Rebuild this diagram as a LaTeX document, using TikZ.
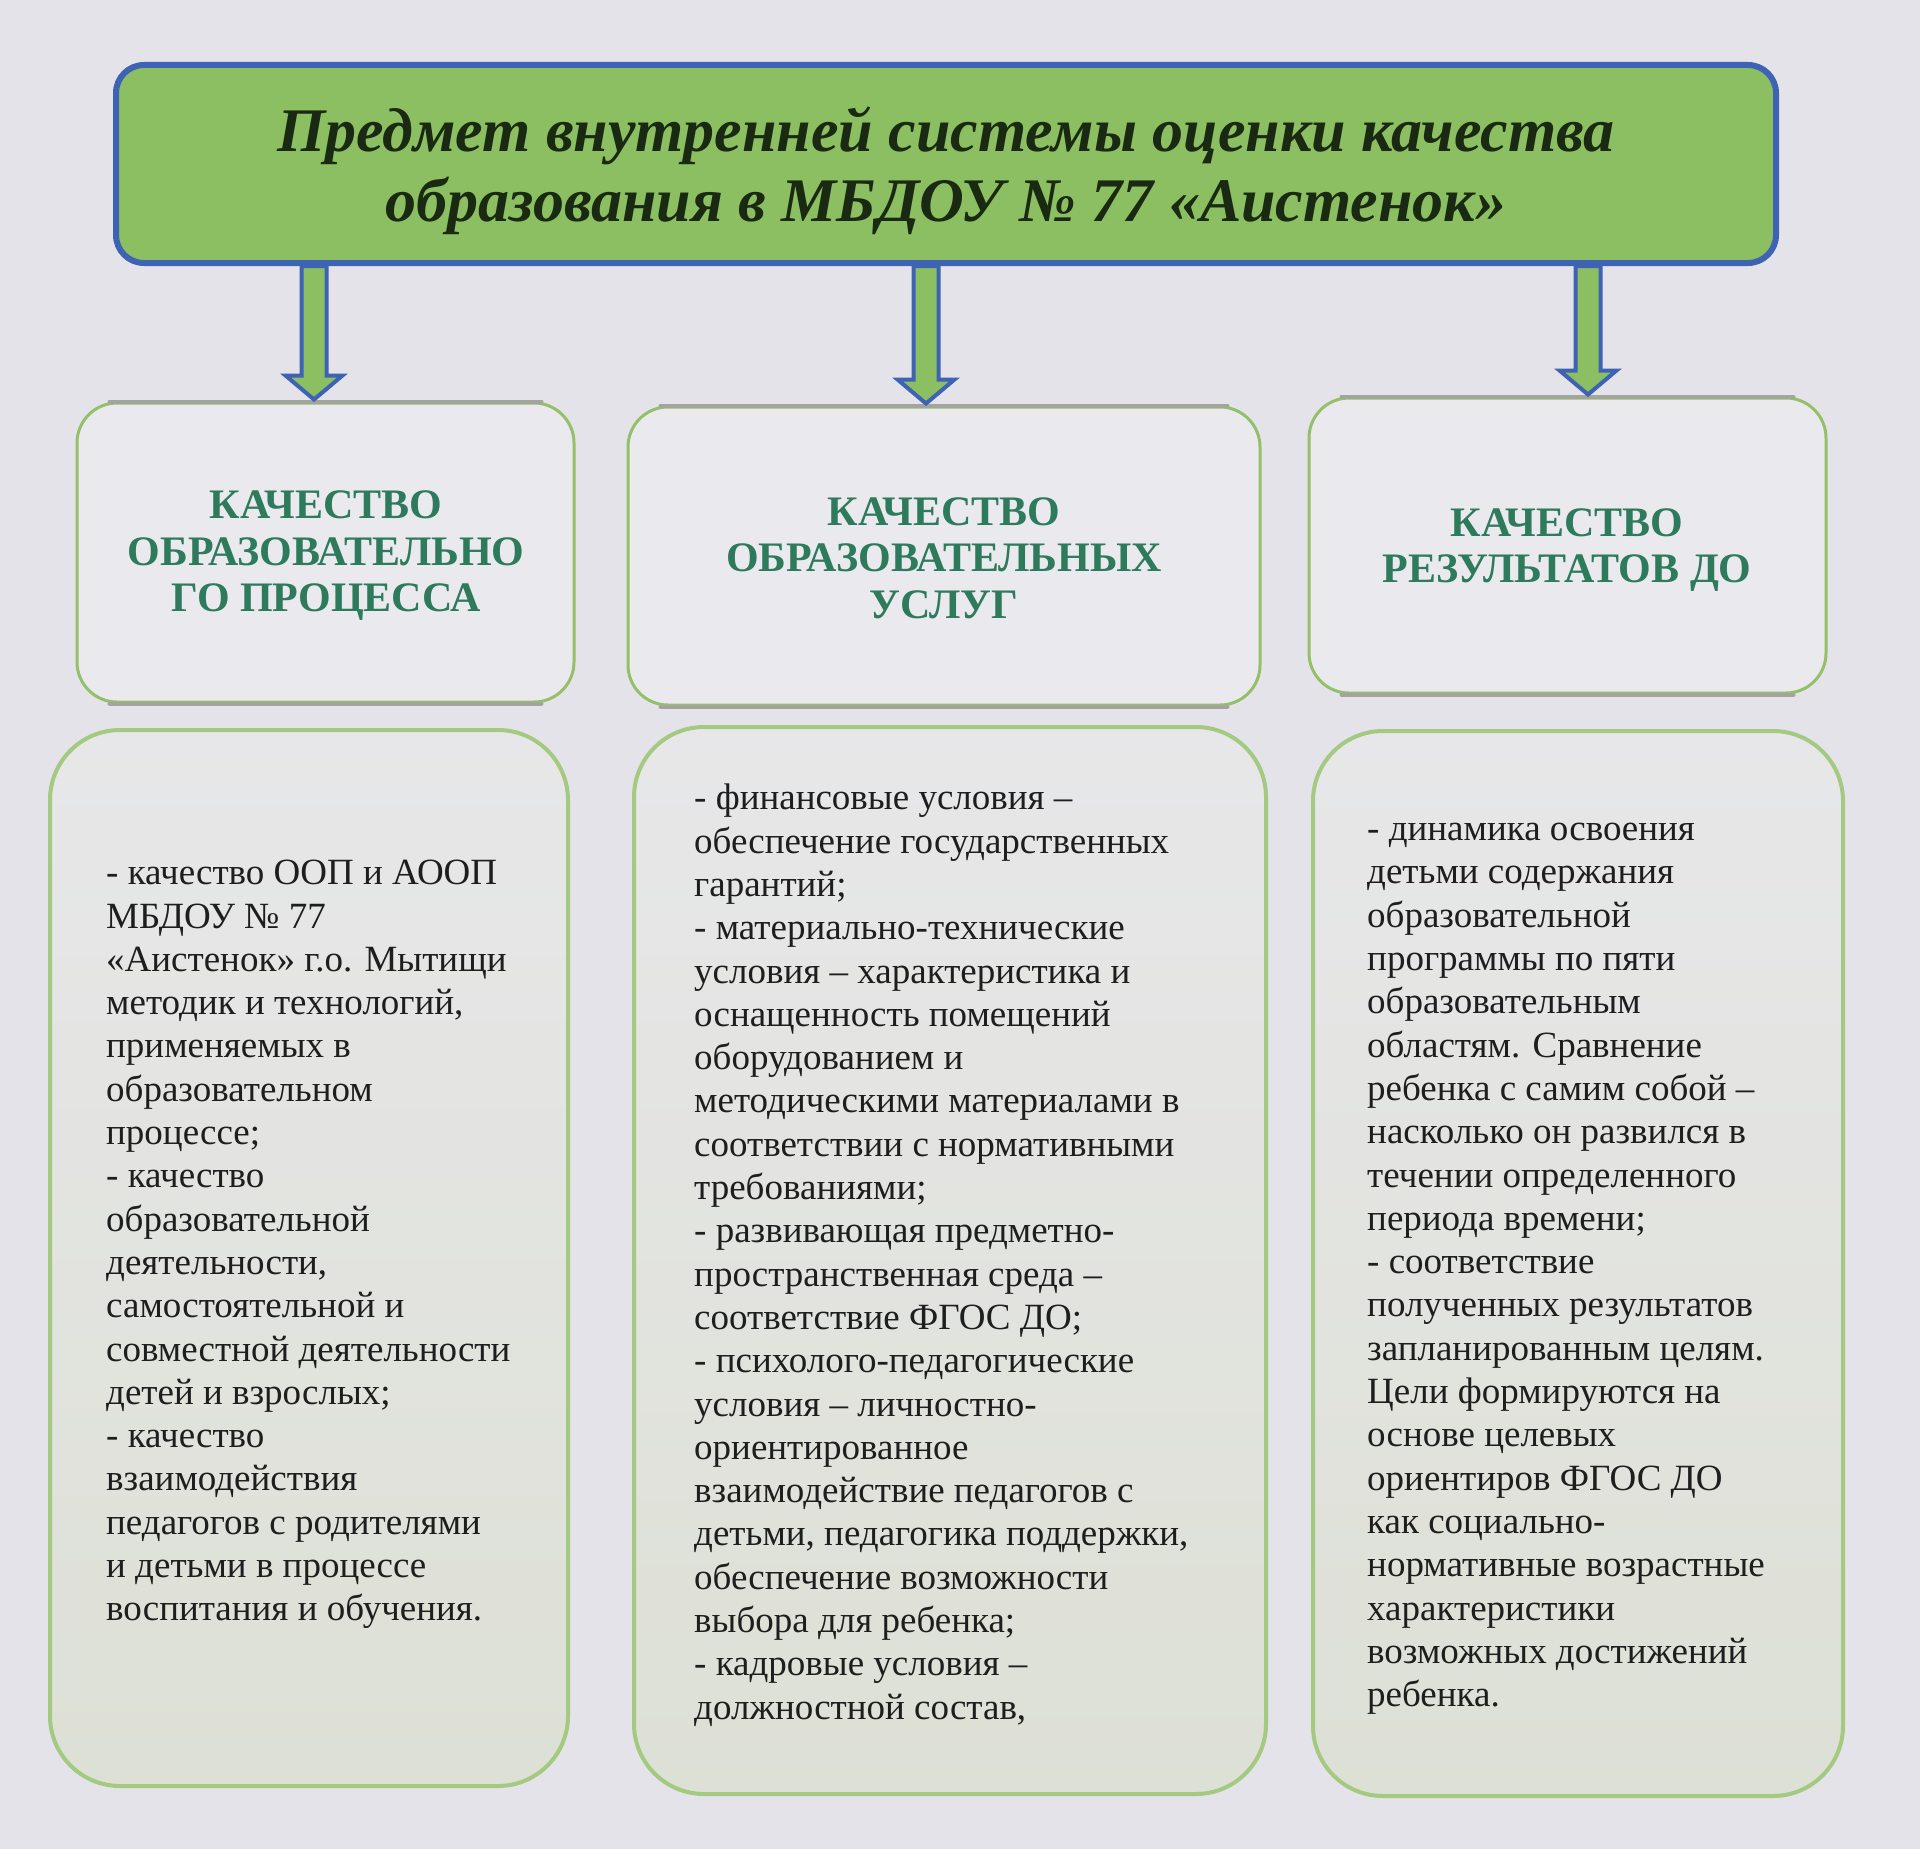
\documentclass[tikz,border=0pt]{standalone}
\usepackage{fontspec}
\setmainfont{Liberation Serif}
\usetikzlibrary{calc}
\definecolor{bgc}{HTML}{E5E3EA}
\definecolor{hdrfill}{HTML}{8CBF62}
\definecolor{hdrline}{HTML}{3E62B4}
\definecolor{boxline}{HTML}{94C06A}
\definecolor{shadowgrey}{HTML}{A3A59C}
\definecolor{catcol}{HTML}{2D7A5C}
\definecolor{titlecol}{HTML}{1A2A12}
\definecolor{bodycol}{HTML}{1E1E1E}
\definecolor{topfill}{HTML}{EAE9EE}
\definecolor{botfillA}{HTML}{E7E7E9}
\definecolor{botfillB}{HTML}{DDE0D5}
\newcommand{\vsdownarrow}[3]{%
  \draw[fatarrow] let \p1=(#1,0 |- #2.south), \p2=(#1,0 |- #3.north) in
  (\x1-12.5pt,\y1) -- (\x1-12.5pt,\y2+26pt) -- (\x1-28.5pt,\y2+26pt) --
  (\x1,\y2+2pt) -- (\x1+28.5pt,\y2+26pt) -- (\x1+12.5pt,\y2+26pt) --
  (\x1+12.5pt,\y1) -- cycle;}
\begin{document}
\begin{tikzpicture}[x=1pt,y=-1pt,
  hdr/.style={draw=hdrline, line width=6pt, fill=hdrfill, rounded corners=28pt, inner sep=0pt,
    text=titlecol, font=\fontsize{62}{70}\selectfont\bfseries\itshape, align=center},
  catbox/.style={draw=boxline, line width=3pt, fill=topfill, rounded corners=40pt, inner sep=0pt,
    text=catcol, font=\fontsize{42}{46.5}\selectfont\bfseries, align=center},
  bodybox/.style={draw=boxline!85!white, line width=4pt, top color=botfillA, bottom color=botfillB,
    rounded corners=70pt, inner sep=0pt},
  bodytext/.style={text=bodycol, font=\fontsize{37}{43.3}\selectfont, align=left,
    anchor=north west, inner sep=0pt},
  greyedge/.style={draw=shadowgrey, line width=4pt, line cap=round},
  fatarrow/.style={draw=hdrline, line width=4pt, fill=hdrfill, line join=miter}
]
\path[fill=bgc] (0,0) rectangle (1920,1849);
\useasboundingbox (0,0) rectangle (1920,1849);

% header
\node[hdr, minimum width=1660pt, minimum height=198pt] (h) at (946,164) {};
\node[text=titlecol, font=\fontsize{62}{70}\selectfont\bfseries\itshape, align=center, inner sep=0pt]
  (ht) at (946,171) {Предмет внутренней системы оценки качества\\образования в МБДОУ № 77 «Аистенок»};

% category boxes
\node[catbox, minimum width=497pt, minimum height=299pt] (t1) at (325.5,552.5) {};
\node[catbox, minimum width=632pt, minimum height=298pt] (t2) at (944,556) {};
\node[catbox, minimum width=517pt, minimum height=295pt] (t3) at (1567.5,545.5) {};
\foreach \b in {t1,t2,t3}{
  \draw[greyedge] ($(\b.north west)+(34,0)$) -- ($(\b.north east)+(-34,0)$);
  \draw[greyedge] ($(\b.south west)+(34,0)$) -- ($(\b.south east)+(-34,0)$);
}
\node[text=catcol, font=\fontsize{42}{46.5}\selectfont\bfseries, align=center] (t1t) at (326,556)
  {КАЧЕСТВО\\ОБРАЗОВАТЕЛЬНО\\ГО ПРОЦЕССА};
\node[text=catcol, font=\fontsize{42}{46.5}\selectfont\bfseries, align=center] (t2t) at (944,558)
  {КАЧЕСТВО\\ОБРАЗОВАТЕЛЬНЫХ\\УСЛУГ};
\node[text=catcol, font=\fontsize{42}{46.5}\selectfont\bfseries, align=center] (t3t) at (1567,550)
  {КАЧЕСТВО\\РЕЗУЛЬТАТОВ ДО};

% arrows
\vsdownarrow{314}{h}{t1}
\vsdownarrow{926}{h}{t2}
\vsdownarrow{1588}{h}{t3}

% body boxes
\node[bodybox, minimum width=518pt, minimum height=1056pt] (b1) at (309,1258) {};
\node[bodybox, minimum width=632pt, minimum height=1067pt] (b2) at (950,1260.5) {};
\node[bodybox, minimum width=530pt, minimum height=1065pt] (b3) at (1578,1263.5) {};

\node[bodytext] (b1t) at (106,860) {- качество ООП и АООП\\МБДОУ № 77\\«Аистенок» г.о. Мытищи\\методик и технологий,\\применяемых в\\образовательном\\процессе;\\- качество\\образовательной\\деятельности,\\самостоятельной и\\совместной деятельности\\детей и взрослых;\\- качество\\взаимодействия\\педагогов с родителями\\и детьми в процессе\\воспитания и обучения.};

\node[bodytext] (b2t) at (694,784) {- финансовые условия –\\обеспечение государственных\\гарантий;\\- материально-технические\\условия – характеристика и\\оснащенность помещений\\оборудованием и\\методическими материалами в\\соответствии с нормативными\\требованиями;\\- развивающая предметно-\\пространственная среда –\\соответствие ФГОС ДО;\\- психолого-педагогические\\условия – личностно-\\ориентированное\\взаимодействие педагогов с\\детьми, педагогика поддержки,\\обеспечение возможности\\выбора для ребенка;\\- кадровые условия –\\должностной состав,};

\node[bodytext] (b3t) at (1367,823) {- динамика освоения\\детьми содержания\\образовательной\\программы по пяти\\образовательным\\областям. Сравнение\\ребенка с самим собой –\\насколько он развился в\\течении определенного\\периода времени;\\- соответствие\\полученных результатов\\запланированным целям.\\Цели формируются на\\основе целевых\\ориентиров ФГОС ДО\\как социально-\\нормативные возрастные\\характеристики\\возможных достижений\\ребенка.};
\end{tikzpicture}
\end{document}
